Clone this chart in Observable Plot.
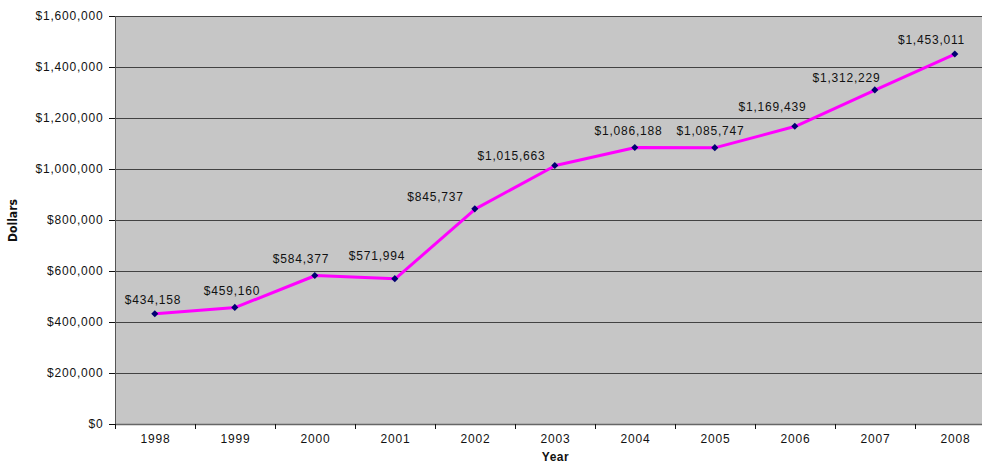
<!DOCTYPE html>
<html><head><meta charset="utf-8">
<script src="https://cdn.jsdelivr.net/npm/d3@7"></script>
<script src="https://cdn.jsdelivr.net/npm/@observablehq/plot@0.6"></script>
<style>
body{margin:0;background:#fff;overflow:hidden}
#chart svg{font-family:"Liberation Sans",Arial,sans-serif;letter-spacing:0.8px}
#chart g[aria-label="y-axis label"] text{font-family:"Liberation Sans Narrow","DejaVu Sans Condensed",sans-serif;font-weight:bold;letter-spacing:0}
#chart g[aria-label="x-axis label"] text{font-weight:bold;letter-spacing:0.5px}
</style></head><body><div id="chart"></div>
<script>
const years = ["1998","1999","2000","2001","2002","2003","2004","2005","2006","2007","2008"];
const dollars = [434158, 459160, 584377, 571994, 845737, 1015663, 1086188, 1085747, 1169439, 1312229, 1453011];
const yTicks = [0, 200000, 400000, 600000, 800000, 1000000, 1200000, 1400000, 1600000];
const data = years.map((y, i) => ({year: y, value: dollars[i]}));
const fmt = d => "$" + d3.format(",")(d);

// label placement nudges (layout only, in pixels)
const nudgeX = [-2.5, -3.5, -14.5, -18.5, -40, -44, -7, -5, -23, -29, -24];
const nudgeY = [-14, -16, -16, -22, -12, -9, -16, -16, -19, -12, -14];

const chart = Plot.plot({
  width: 982,
  height: 464,
  marginLeft: 115,
  marginRight: -13,
  marginTop: 16,
  marginBottom: 40,
  style: {fontSize: "12px", color: "#111", background: "#fff", overflow: "hidden"},
  x: {type: "band", domain: years, padding: 0},
  y: {domain: [0, 1600000]},
  marks: [
    Plot.frame({fill: "#c6c6c6", stroke: null}),
    Plot.gridY(yTicks, {stroke: "#333", strokeOpacity: 0.9}),
    Plot.ruleY([0], {stroke: "#666", strokeWidth: 1.5}),
    Plot.frame({anchor: "left", stroke: "#555"}),
    Plot.axisY({ticks: yTicks, tickFormat: fmt, tickSize: 6, tickPadding: 6, label: "Dollars", labelAnchor: "center", labelOffset: 107, labelArrow: "none"}),
    Plot.axisX({tickSize: 0, tickPadding: 10, label: "Year", labelAnchor: "center", labelOffset: 36, labelArrow: "none"}),
    Plot.axisX({tickSize: 5, tickFormat: () => "", dx: -40, label: null}),
    Plot.line(data, {x: "year", y: "value", stroke: "#ff00ff", strokeWidth: 3}),
    Plot.dot(data, {x: "year", y: "value", symbol: "diamond2", r: 3.2, fill: "#000070", stroke: null, dx: -0.7}),
    ...data.map((d, i) => Plot.text([d], {x: "year", y: "value", text: d => fmt(d.value), dx: nudgeX[i], dy: nudgeY[i], fill: "#111", fontSize: 12}))
  ]
});
document.getElementById("chart").append(chart);
</script></body></html>
